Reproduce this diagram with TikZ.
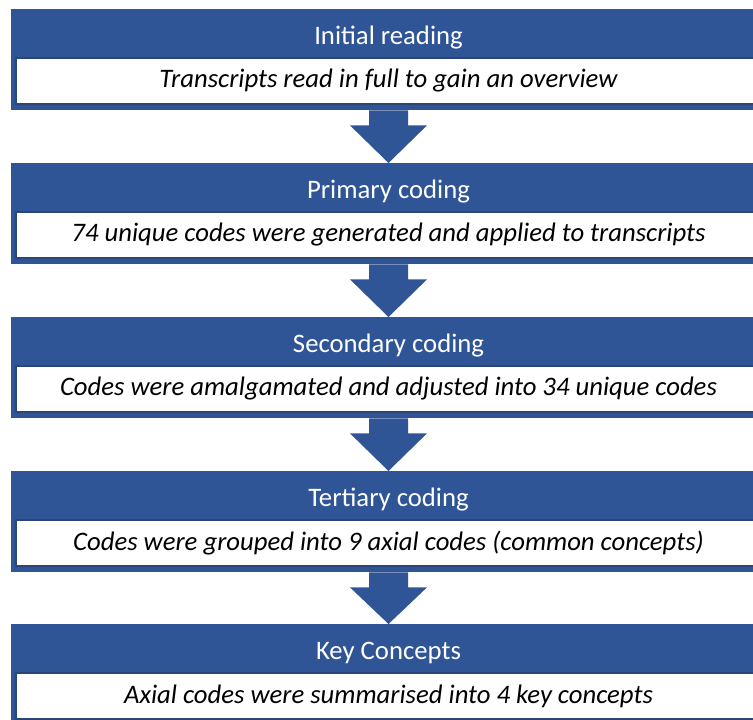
\documentclass[tikz,border=0pt]{standalone}
\usepackage{fontspec}
\setmainfont{Carlito}
\usetikzlibrary{calc}
\definecolor{stageblue}{HTML}{2F5597}
\definecolor{rimblue}{HTML}{2A4677}

\tikzset{
  stage/.style={fill=stageblue,anchor=north,minimum width=755pt,minimum height=101pt,inner sep=0pt},
  head/.style={text=white,font=\fontsize{26.7}{32}\selectfont},
  desc/.style={fill=white,draw=rimblue,line width=1.2pt,minimum width=745pt,minimum height=46pt,inner sep=0pt,font=\fontsize{26.7}{32}\selectfont\itshape},
  flow/.style={fill=stageblue}
}

\begin{document}
\begin{tikzpicture}[x=1pt,y=1pt]
  \useasboundingbox (0,0) rectangle (753,-720);
  \clip (0,0) rectangle (753,-720);

  % stages
  \node[stage] (s1) at (388.5,-9) {};
  \node[stage] (s2) at (388.5,-163) {};
  \node[stage] (s3) at (388.5,-317) {};
  \node[stage] (s4) at (388.5,-471) {};
  \node[stage] (s5) at (388.5,-624) {};

  \node[head] (h1) at ([yshift=-28.5pt]s1.north) {Initial reading};
  \node[desc] (d1) at ([yshift=-72pt]s1.north) {Transcripts read in full to gain an overview};
  \node[head] (h2) at ([yshift=-28.5pt]s2.north) {Primary coding};
  \node[desc] (d2) at ([yshift=-72pt]s2.north) {74 unique codes were generated and applied to transcripts};
  \node[head] (h3) at ([yshift=-28.5pt]s3.north) {Secondary coding};
  \node[desc] (d3) at ([yshift=-72pt]s3.north) {Codes were amalgamated and adjusted into 34 unique codes};
  \node[head] (h4) at ([yshift=-28.5pt]s4.north) {Tertiary coding};
  \node[desc] (d4) at ([yshift=-72pt]s4.north) {Codes were grouped into 9 axial codes (common concepts)};
  \node[head] (h5) at ([yshift=-28.5pt]s5.north) {Key Concepts};
  \node[desc] (d5) at ([yshift=-72pt]s5.north) {Axial codes were summarised into 4 key concepts};

  % block arrows between stages
  \foreach \a/\b in {s1/s2,s2/s3,s3/s4,s4/s5}
    \fill[flow] ([xshift=-19.5pt]\a.south) -- ([xshift=-19.5pt,yshift=-15pt]\a.south)
      -- ([xshift=-38.5pt,yshift=-15pt]\a.south) -- (\b.north)
      -- ([xshift=38.5pt,yshift=-15pt]\a.south) -- ([xshift=19.5pt,yshift=-15pt]\a.south)
      -- ([xshift=19.5pt]\a.south) -- cycle;
\end{tikzpicture}
\end{document}
